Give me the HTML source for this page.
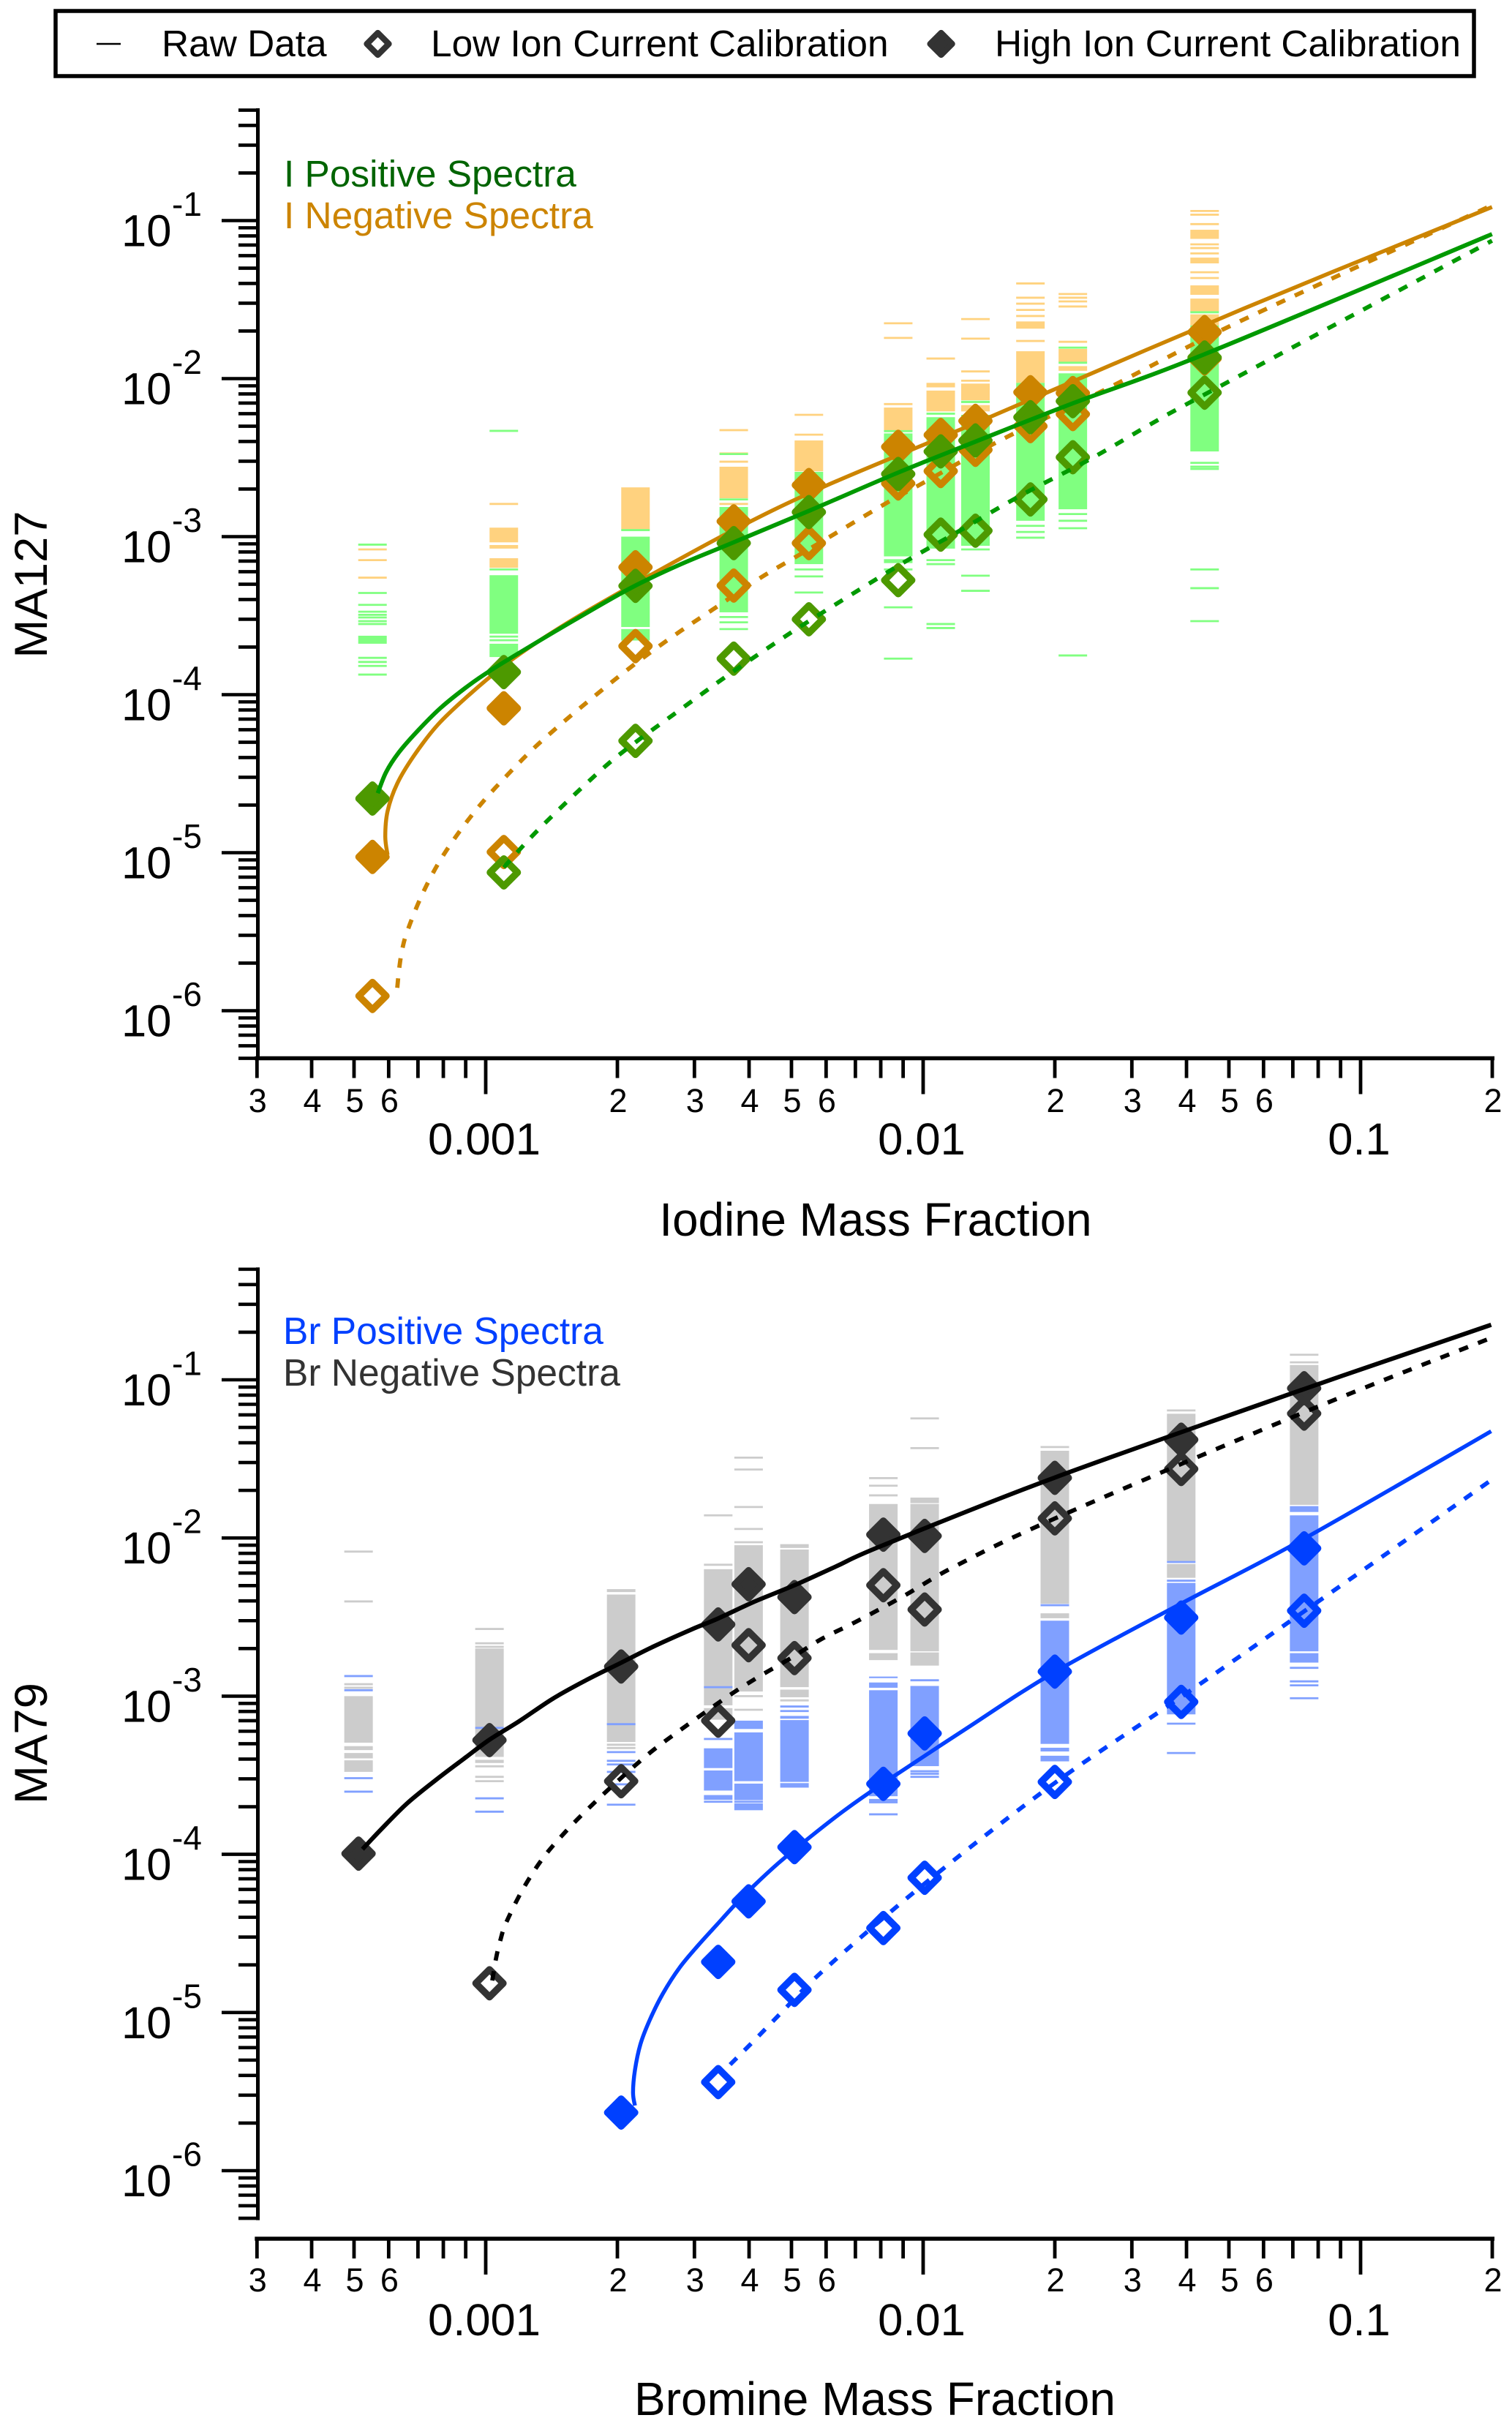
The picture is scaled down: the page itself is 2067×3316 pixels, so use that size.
<!DOCTYPE html>
<html lang="en">
<head>
<meta charset="utf-8">
<title>MA127 and MA79 calibration</title>
<style>
  html, body { margin: 0; padding: 0; background: #fff; }
  svg { display: block; font-family: "Liberation Sans", sans-serif; }
</style>
</head>
<body>
<svg id="figure" xmlns="http://www.w3.org/2000/svg" width="2067" height="3316" viewBox="0 0 2067 3316">
  <rect x="0" y="0" width="2067" height="3316" fill="#fff"/>

  <g>
    <rect x="76" y="15" width="1939" height="89" fill="#fff" stroke="#000" stroke-width="5.5"/>
    <line x1="132" y1="60" x2="165" y2="60" stroke="#000" stroke-width="2.5"/>
    <text x="221" y="77" font-size="51.4">Raw Data</text>
    <path d="M516.5 45 L531.5 60 L516.5 75 L501.5 60 Z" fill="none" stroke="#333" stroke-width="8.3" stroke-linejoin="round"/>
    <text x="589" y="77" font-size="51.4">Low Ion Current Calibration</text>
    <path d="M1286.6 45 L1301.6 60 L1286.6 75 L1271.6 60 Z" fill="#333" stroke="#333" stroke-width="8.3" stroke-linejoin="round"/>
    <text x="1360" y="77" font-size="51.4">High Ion Current Calibration</text>
  </g>

  <g>
    <g id="iodine-raw"></g>
    <g id="iodine-series"></g>
    <g id="iodine-axes"></g>
    <text x="388" y="255" font-size="51.4" fill="#006400">I Positive Spectra</text>
    <text x="388" y="312" font-size="51.4" fill="#cc8400">I Negative Spectra</text>
    <text transform="translate(64,799) rotate(-90)" text-anchor="middle" font-size="63.5">MA127</text>
    <text x="1197" y="1689" text-anchor="middle" font-size="63.7">Iodine Mass Fraction</text>
  </g>

  <g>
    <g id="bromine-raw"></g>
    <g id="bromine-series"></g>
    <g id="bromine-axes"></g>
    <text x="387" y="1837" font-size="51.5" fill="#0040ff">Br Positive Spectra</text>
    <text x="387" y="1894" font-size="51.5" fill="#333">Br Negative Spectra</text>
    <text transform="translate(64,2383) rotate(-90)" text-anchor="middle" font-size="63.5">MA79</text>
    <text x="1196" y="3301" text-anchor="middle" font-size="64">Bromine Mass Fraction</text>
  </g>
</svg>

<script>
/* ---------- Tick labels ---------- */
const yExponentLabels = [-1, -2, -3, -4, -5, -6];
const xDigitTicks = [[3,1e-4],[4,1e-4],[5,1e-4],[6,1e-4],[2,1e-3],[3,1e-3],[4,1e-3],[5,1e-3],[6,1e-3],[2,1e-2],[3,1e-2],[4,1e-2],[5,1e-2],[6,1e-2],[2,1e-1]];
const xUnlabelledTicks = [7e-4,8e-4,9e-4,7e-3,8e-3,9e-3,7e-2,8e-2,9e-2];
const xDecadeLabels = ['0.001', '0.01', '0.1'];
const xDecadeValues = [1e-3, 1e-2, 1e-1];

/* ---------- Iodine panel data ---------- */
const iodineColumns = [5.51e-4, 1.10e-3, 2.20e-3, 3.69e-3, 5.48e-3, 8.77e-3, 1.097e-2, 1.317e-2, 1.759e-2, 2.199e-2, 4.40e-2];

const iNegRawBands = [
  [],
  [[1.14e-3,9.2e-4],[8.85e-4,8.4e-4],[7.3e-4,6.35e-4]],
  [[2.05e-3,1.11e-3]],
  [[2.77e-3,1.75e-3]],
  [[4.06e-3,2.59e-3]],
  [[6.56e-3,4.67e-3]],
  [[9.4e-3,8.8e-3],[8.4e-3,6.2e-3]],
  [[9.3e-3,7.3e-3],[6.8e-3,6.2e-3]],
  [[2.3e-2,2.07e-2],[1.49e-2,9.4e-3]],
  [[1.54e-2,1.27e-2],[1.2e-2,1.12e-2]],
  [[8.75e-2,7.66e-2],[5.83e-2,5.36e-2],[3.89e-2,3.39e-2],[3.21e-2,2.65e-2],[2.55e-2,2.17e-2]]
];
const iNegRawDashes = [
  [8.3e-4,7.1e-4,5.5e-4],
  [1.61e-3],
  [],
  [4.72e-3,3.36e-3,2.98e-3,1.61e-3],
  [5.9e-3,4.42e-3],
  [2.24e-2,1.81e-2,6.9e-3],
  [1.34e-2],
  [2.38e-2,1.79e-2,1.11e-2,9.7e-3],
  [4.0e-2,3.25e-2,2.98e-2,2.72e-2,2.49e-2,1.73e-2],
  [3.43e-2,3.25e-2,3.08e-2,2.86e-2,1.71e-2],
  [1.15e-1,1.09e-1,9.5e-2,7.07e-2,6.7e-2,6.2e-2,4.71e-2,4.33e-2]
];
const iPosRawBands = [
  [[2.36e-4,2.1e-4]],
  [[5.7e-4,2.43e-4],[2.1e-4,1.73e-4]],
  [[1.0e-3,2.68e-4],[2.6e-4,2.2e-4]],
  [[1.54e-3,3.32e-4]],
  [[2.57e-3,6.7e-4]],
  [[4.5e-3,7.5e-4],[7.2e-4,6.8e-4]],
  [[5.7e-3,8.4e-4]],
  [[7.25e-3,7.0e-3],[5.9e-3,8.75e-4]],
  [[9.4e-3,1.26e-3]],
  [[1.08e-2,1.49e-3]],
  [[2.17e-2,3.46e-3]]
];
const iPosRawDashes = [
  [8.9e-4,4.4e-4,3.7e-4,3.35e-4,3.2e-4,3.08e-4,2.92e-4,2.8e-4,1.71e-4,1.61e-4,1.52e-4,1.34e-4],
  [4.67e-3,6.2e-4,2.33e-4,2.21e-4],
  [1.1e-3],
  [3.33e-3,1.72e-3,3.1e-4,2.87e-4,2.6e-4],
  [6.2e-4,5.6e-4,4.43e-4],
  [4.65e-3,6.2e-4,3.57e-4,1.69e-4],
  [6.0e-3,7.1e-4,6.7e-4,2.8e-4,2.64e-4],
  [8.3e-4,5.66e-4,4.54e-4],
  [1.17e-3,1.07e-3,9.85e-4],
  [1.57e-2,1.26e-2,1.39e-3,1.26e-3,1.13e-3,1.77e-4],
  [2.63e-2,2.93e-3,2.77e-3,2.68e-3,6.2e-4,4.72e-4,2.92e-4]
];

const iPosHigh = [2.2e-5,1.39e-4,4.88e-4,9.1e-4,1.43e-3,2.49e-3,3.46e-3,4.06e-3,5.7e-3,7.2e-3,1.36e-2];
const iNegHigh = [9.4e-6,8.2e-5,6.4e-4,1.25e-3,2.12e-3,3.7e-3,4.4e-3,5.4e-3,8.2e-3,8.1e-3,1.97e-2];
const iNegLow  = [1.24e-6,1.01e-5,2.03e-4,4.9e-4,9.1e-4,2.17e-3,2.6e-3,3.54e-3,5.0e-3,5.96e-3,1.34e-2];
const iPosLow  = [null,7.5e-6,5.1e-5,1.69e-4,3.0e-4,5.3e-4,1.03e-3,1.09e-3,1.72e-3,3.18e-3,8.15e-3];

/* Fit curves as log10(mass fraction) and log10(signal) */
const iNegSolidLogX = [-3.2244,-3.2296,-3.2244,-3.2022,-3.1637,-3.1094,-3.0390,-2.9589,-2.8916,-2.7957,-2.6677,-2.4381,-2.2216,-1.8562,-1.2676,-0.6995];
const iNegSolidLogY = [-5.0134,-4.8986,-4.7384,-4.5620,-4.3847,-4.1898,-4.0037,-3.8176,-3.6847,-3.5167,-3.3125,-2.9653,-2.6773,-2.2537,-1.5574,-0.9144];
const iPosSolidLogX = [-3.2468,-3.2278,-3.1990,-3.1542,-3.1028,-3.0390,-2.9876,-2.8982,-2.7957,-2.6677,-2.5589,-2.4381,-2.2592,-2.0574,-1.8819,-1.6580,-1.3579,-0.6995];
const iPosSolidLogY = [-4.6236,-4.4907,-4.3671,-4.2250,-4.0833,-3.9417,-3.8444,-3.6935,-3.5255,-3.3241,-3.1806,-3.0417,-2.8347,-2.5949,-2.4005,-2.1565,-1.8468,-1.0856];
const iNegDashLogX = [-3.2022,-3.1977,-3.1911,-3.1798,-3.1477,-3.1080,-3.0614,-3.0089,-2.9507,-2.8905,-2.8258,-2.7605,-2.6933,-2.6261,-2.5538,-2.4821,-2.3766,-2.3037,-2.2216,-2.0836,-2.0089,-1.8186,-1.5871,-1.2776,-0.6995];
const iNegDashLogY = [-5.8551,-5.7310,-5.6162,-5.5009,-5.2792,-5.0667,-4.8718,-4.6856,-4.5088,-4.3403,-4.1810,-4.0301,-3.8796,-3.7380,-3.5963,-3.4634,-3.2685,-3.1486,-3.0144,-2.7870,-2.6736,-2.3838,-2.0741,-1.6398,-0.9032];
const iPosDashLogX = [-2.9589,-2.8982,-2.8373,-2.7766,-2.7125,-2.6421,-2.5717,-2.5013,-2.4341,-2.3253,-2.2592,-2.1395,-2.0351,-1.9231,-1.7811,-1.6171,-1.4751,-1.3595,-0.6995];
const iPosDashLogY = [-5.0935,-4.9074,-4.7389,-4.5796,-4.4199,-4.2694,-4.1278,-3.9861,-3.8532,-3.6495,-3.5310,-3.3245,-3.1486,-2.9731,-2.7458,-2.5079,-2.2806,-2.1051,-1.1273];

/* ---------- Bromine panel data ---------- */
const bromineColumns = [5.12e-4, 1.02e-3, 2.04e-3, 3.40e-3, 3.99e-3, 5.08e-3, 8.11e-3, 1.008e-2, 2.0e-2, 3.89e-2, 7.43e-2];

const brNegRawBands = [
  [[1.0e-3,5.08e-4],[4.83e-4,4.56e-4],[4.37e-4,4.04e-4],[3.93e-4,3.32e-4]],
  [[2.0e-3,4.13e-4],[3.96e-4,3.78e-4]],
  [[4.75e-3,4.55e-3],[4.39e-3,5.13e-4]],
  [[6.35e-3,8.75e-4],[8.4e-4,7.1e-4]],
  [[9.0e-3,1.07e-3]],
  [[9.14e-3,8.65e-3],[8.45e-3,1.14e-3],[1.1e-3,9.84e-4]],
  [[1.64e-2,1.96e-3],[1.87e-3,1.69e-3]],
  [[1.8e-2,1.66e-2],[1.64e-2,1.92e-3],[1.89e-3,1.56e-3]],
  [[3.56e-2,3.84e-3],[3.34e-3,3.11e-3]],
  [[6.1e-2,7.15e-3],[6.85e-3,5.6e-3]],
  [[1.24e-1,1.62e-2]]
];
const brNegRawDashes = [
  [8.2e-3,3.97e-3,1.19e-3,1.13e-3],
  [2.66e-3,2.16e-3,2.05e-3,3.6e-4,3.09e-4,2.9e-4],
  [4.93e-4,4.7e-4],
  [1.39e-2,6.77e-3],
  [3.22e-2,2.71e-2,1.57e-2,1.14e-2,9.4e-3,1.0e-3,8.2e-4],
  [9.4e-4],
  [2.39e-2,2.14e-2,1.86e-2],
  [5.7e-2,3.7e-2],
  [3.76e-2],
  [6.4e-2],
  [1.44e-1,1.29e-1]
];
const brPosRawBands = [
  [],
  [],
  [],
  [[4.68e-4,3.51e-4],[3.39e-4,2.53e-4],[2.37e-4,2.21e-4]],
  [[7.0e-4,6.2e-4],[5.9e-4,2.9e-4],[2.8e-4,2.2e-4],[2.1e-4,1.9e-4]],
  [[7.5e-4,7.2e-4],[7.06e-4,2.87e-4],[2.82e-4,2.64e-4]],
  [[1.33e-3,1.3e-3],[1.22e-3,1.13e-3],[1.09e-3,2.33e-4],[2.24e-4,2.1e-4]],
  [[1.16e-3,3.61e-4]],
  [[3.0e-3,4.99e-4],[4.72e-4,4.47e-4],[4.2e-4,3.87e-4]],
  [[5.2e-3,7.67e-4]],
  [[1.59e-2,1.46e-2],[1.39e-2,1.92e-3],[1.87e-3,1.63e-3]]
];
const brPosRawDashes = [
  [1.34e-3,1.09e-3,3.03e-4,2.49e-4],
  [6.3e-4,2.26e-4,1.86e-4],
  [6.65e-4,4.43e-4,3.9e-4,3.7e-4,3.32e-4,2.77e-4,2.06e-4],
  [1.14e-3,5.36e-4,2.15e-4],
  [2.15e-4],
  [8.6e-4,8.05e-4],
  [1.79e-4],
  [1.26e-3,3.35e-4,3.23e-4,3.09e-4],
  [3.76e-3],
  [7.05e-3,5.37e-3,6.7e-4,4.37e-4],
  [1.51e-3,1.24e-3,1.17e-3,9.7e-4]
];

const brNegHigh = [1.01e-4,5.27e-4,1.54e-3,2.84e-3,5.1e-3,4.23e-3,1.05e-2,1.03e-2,2.4e-2,4.18e-2,8.85e-2];
const brNegLow  = [null,1.53e-5,2.9e-4,7.0e-4,2.1e-3,1.74e-3,5.03e-3,3.53e-3,1.33e-2,2.73e-2,6.12e-2];
const brPosHigh = [null,null,2.33e-6,2.09e-5,5.04e-5,1.11e-4,2.79e-4,5.81e-4,1.43e-3,3.14e-3,8.6e-3];
const brPosLow  = [null,null,null,3.63e-6,null,1.39e-5,3.42e-5,7.11e-5,2.87e-4,9.2e-4,3.47e-3];

const brNegSolidLogX = [-3.2818,-3.2391,-3.1794,-3.1110,-3.0513,-2.9916,-2.9234,-2.8467,-2.7699,-2.6930,-2.6162,-2.5309,-2.4687,-2.3860,-2.2921,-2.1982,-2.0931,-1.7008,-1.1303,-0.7015];
const brNegSolidLogY = [-3.9676,-3.8423,-3.6772,-3.5236,-3.3987,-3.2757,-3.1582,-3.0162,-2.8983,-2.7923,-2.6859,-2.5800,-2.5088,-2.4029,-2.2965,-2.1785,-2.0476,-1.6198,-1.0597,-0.6522];
const brNegDashLogX = [-2.9849,-2.9763,-2.9661,-2.9533,-2.9149,-2.8679,-2.8125,-2.7528,-2.6930,-2.6247,-2.5565,-2.4542,-2.3816,-2.3007,-2.2324,-2.1555,-2.0446,-1.9281,-1.6987,-1.1303,-0.7015];
const brNegDashLogY = [-4.7979,-4.6563,-4.5384,-4.4325,-4.2197,-4.0194,-3.8423,-3.6772,-3.5236,-3.3585,-3.2169,-3.0162,-2.8867,-2.7567,-2.6388,-2.5324,-2.3673,-2.1804,-1.8765,-1.2068,-0.7350];
const brPosSolidLogX = [-2.6589,-2.6632,-2.6589,-2.6462,-2.6247,-2.5950,-2.5565,-2.5139,-2.4712,-2.4286,-2.3860,-2.3304,-2.2579,-2.1811,-2.0958,-1.9030,-1.7008,-1.4107,-1.1303,-0.7015];
const brPosSolidLogY = [-5.5883,-5.5060,-5.3645,-5.1994,-5.0458,-4.8807,-4.7155,-4.5740,-4.4440,-4.3145,-4.1961,-4.0546,-3.8895,-3.7243,-3.5592,-3.2081,-2.8502,-2.4154,-2.0065,-1.3252];
const brPosDashLogX = [-2.4413,-2.3774,-2.3219,-2.2237,-1.9973,-1.7008,-1.4107,-1.1303,-0.7015];
const brPosDashLogY = [-5.3293,-5.1522,-4.9940,-4.7234,-4.1869,-3.5523,-3.0065,-2.4662,-1.6346];

/* ---------- Axis functions ---------- */
function xPos(v) { return 664 + 598 * (Math.log10(v) + 3); }
function yIodine(v) { return 85.5 - 216 * Math.log10(v); }
function yBromine(v) { return 1669.8 - 216.2 * Math.log10(v); }

const NS = 'http://www.w3.org/2000/svg';
function mk(tag, parent) {
  const el = document.createElementNS(NS, tag);
  parent.appendChild(el);
  return el;
}
function byId(id) { return document.getElementById(id); }

/* ---------- Drawing ---------- */
function drawRaw(parent, yFn, columns, bands, dashes, color) {
  const halfWidth = 19.5;
  columns.forEach(function (xv, i) {
    const cx = xPos(xv);
    bands[i].forEach(function (b) {
      const r = mk('rect', parent);
      
      
      r.setAttribute('x', cx - halfWidth);
      r.setAttribute('width', halfWidth * 2);
      r.setAttribute('y', yFn(b[0]));
      r.setAttribute('height', yFn(b[1]) - yFn(b[0]));
      r.setAttribute('fill', color);
    });
    dashes[i].forEach(function (d) {
      const l = mk('line', parent);
      
      
      l.setAttribute('x1', cx - halfWidth);
      l.setAttribute('x2', cx + halfWidth);
      l.setAttribute('y1', yFn(d));
      l.setAttribute('y2', yFn(d));
      l.setAttribute('stroke', color);
      l.setAttribute('stroke-width', 2.8);
    });
  });
}

function diamond(cx, cy, h) {
  return 'M' + cx + ' ' + (cy - h) + ' L' + (cx + h) + ' ' + cy + ' L' + cx + ' ' + (cy + h) + ' L' + (cx - h) + ' ' + cy + ' Z';
}

function drawHigh(parent, yFn, columns, values, color) {
  values.forEach(function (v, i) {
    if (v === null) return;
    const p = mk('path', parent);
    
    
    p.setAttribute('d', diamond(xPos(columns[i]), yFn(v), 18.75));
    p.setAttribute('fill', color);
    p.setAttribute('stroke', color);
    p.setAttribute('stroke-width', 9.5);
    p.setAttribute('stroke-linejoin', 'round');
  });
}

function drawLow(parent, yFn, columns, values, color) {
  values.forEach(function (v, i) {
    if (v === null) return;
    const p = mk('path', parent);
    
    
    p.setAttribute('d', diamond(xPos(columns[i]), yFn(v), 18.75));
    p.setAttribute('fill', 'none');
    p.setAttribute('stroke', color);
    p.setAttribute('stroke-width', 9.5);
    p.setAttribute('stroke-linejoin', 'round');
  });
}

function curvePath(pts) {
  let d = 'M' + pts[0][0].toFixed(1) + ' ' + pts[0][1].toFixed(1);
  for (let i = 0; i < pts.length - 1; i++) {
    const p0 = pts[Math.max(i - 1, 0)], p1 = pts[i], p2 = pts[i + 1], p3 = pts[Math.min(i + 2, pts.length - 1)];
    const c1x = p1[0] + (p2[0] - p0[0]) / 6, c1y = p1[1] + (p2[1] - p0[1]) / 6;
    const c2x = p2[0] - (p3[0] - p1[0]) / 6, c2y = p2[1] - (p3[1] - p1[1]) / 6;
    d += ' C' + c1x.toFixed(1) + ' ' + c1y.toFixed(1) + ' ' + c2x.toFixed(1) + ' ' + c2y.toFixed(1) + ' ' + p2[0].toFixed(1) + ' ' + p2[1].toFixed(1);
  }
  return d;
}

function curvePoints(yFn, logXs, logYs) {
  return logXs.map(function (lx, i) {
    return [xPos(Math.pow(10, lx)), yFn(Math.pow(10, logYs[i]))];
  });
}

function drawSolid(parent, yFn, logXs, logYs, color, width) {
  const p = mk('path', parent);
  
  
  p.setAttribute('d', curvePath(curvePoints(yFn, logXs, logYs)));
  p.setAttribute('fill', 'none');
  p.setAttribute('stroke', color);
  p.setAttribute('stroke-width', width);
}

function drawDashed(parent, yFn, logXs, logYs, color) {
  const p = mk('path', parent);
  
  
  p.setAttribute('d', curvePath(curvePoints(yFn, logXs, logYs)));
  p.setAttribute('fill', 'none');
  p.setAttribute('stroke', color);
  p.setAttribute('stroke-width', 5.8);
  p.setAttribute('stroke-dasharray', '13 14.6');
}

function tickLine(parent, x1, y1, x2, y2, w) {
  const l = mk('line', parent);
  
  
  l.setAttribute('x1', x1);
  l.setAttribute('y1', y1);
  l.setAttribute('x2', x2);
  l.setAttribute('y2', y2);
  l.setAttribute('stroke', '#000');
  l.setAttribute('stroke-width', w);
}

function drawYAxis(parent, yFn) {
  const axisX = 352.5;
  const top = yFn(0.5), bottom = yFn(5e-7);
  const spine = mk('line', parent);
  
  
  spine.setAttribute('x1', axisX);
  spine.setAttribute('x2', axisX);
  spine.setAttribute('y1', top - 2.5);
  spine.setAttribute('y2', bottom + 2.5);
  spine.setAttribute('stroke', '#000');
  spine.setAttribute('stroke-width', 5);
  for (let e = -7; e <= -1; e++) {
    for (let m = 1; m <= 9; m++) {
      const v = m * Math.pow(10, e);
      if (v < 4.9e-7 || v > 0.51) continue;
      tickLine(parent, m === 1 ? 303 : 326, yFn(v), axisX, yFn(v), 4.6);
    }
  }
  yExponentLabels.forEach(function (e) {
    const ty = yFn(Math.pow(10, e));
    const base = mk('text', parent);
    
    
    base.setAttribute('x', 166);
    base.setAttribute('y', ty + 35);
    base.setAttribute('font-size', 61.5);
    base.textContent = '10';
    const sup = mk('text', parent);
    
    
    sup.setAttribute('x', 235);
    sup.setAttribute('y', ty - 6.5);
    sup.setAttribute('font-size', 46);
    sup.textContent = String(e);
  });
}

function drawXAxis(parent, axisY, digitBase, decadeBase) {
  const spine = mk('line', parent);
  
  
  spine.setAttribute('x1', xPos(3e-4) - 3);
  spine.setAttribute('x2', xPos(0.2) + 3);
  spine.setAttribute('y1', axisY);
  spine.setAttribute('y2', axisY);
  spine.setAttribute('stroke', '#000');
  spine.setAttribute('stroke-width', 5.5);
  xDigitTicks.forEach(function (t) {
    const x = xPos(t[0] * t[1]);
    tickLine(parent, x, axisY, x, axisY + 27, 4.8);
    const label = mk('text', parent);
    
    
    label.setAttribute('x', x + 1);
    label.setAttribute('y', digitBase);
    label.setAttribute('text-anchor', 'middle');
    label.setAttribute('font-size', 45);
    label.textContent = String(t[0]);
  });
  xUnlabelledTicks.forEach(function (v) {
    tickLine(parent, xPos(v), axisY, xPos(v), axisY + 27, 4.8);
  });
  xDecadeValues.forEach(function (v, i) {
    tickLine(parent, xPos(v), axisY, xPos(v), axisY + 49, 4.8);
    const label = mk('text', parent);
    
    
    label.setAttribute('x', xPos(v) - 2);
    label.setAttribute('y', decadeBase);
    label.setAttribute('text-anchor', 'middle');
    label.setAttribute('font-size', 61.5);
    label.textContent = xDecadeLabels[i];
  });
}

/* ---------- Iodine panel ---------- */
const ORANGE = '#cc8400', GREEN_MARK = '#4d9900', GREEN_LINE = '#009900';
const BLACK_MARK = '#333333', BLUE = '#0040ff';

drawRaw(byId('iodine-raw'), yIodine, iodineColumns, iNegRawBands, iNegRawDashes, '#ffd27f');
drawRaw(byId('iodine-raw'), yIodine, iodineColumns, iPosRawBands, iPosRawDashes, '#80ff80');

drawLow(byId('iodine-series'), yIodine, iodineColumns, iNegLow, ORANGE);
drawHigh(byId('iodine-series'), yIodine, iodineColumns, iNegHigh, ORANGE);
drawDashed(byId('iodine-series'), yIodine, iNegDashLogX, iNegDashLogY, ORANGE);
drawSolid(byId('iodine-series'), yIodine, iNegSolidLogX, iNegSolidLogY, ORANGE, 5.4);
drawLow(byId('iodine-series'), yIodine, iodineColumns, iPosLow, GREEN_MARK);
drawHigh(byId('iodine-series'), yIodine, iodineColumns, iPosHigh, GREEN_MARK);
drawDashed(byId('iodine-series'), yIodine, iPosDashLogX, iPosDashLogY, GREEN_LINE);
drawSolid(byId('iodine-series'), yIodine, iPosSolidLogX, iPosSolidLogY, GREEN_LINE, 5.8);

drawYAxis(byId('iodine-axes'), yIodine);
drawXAxis(byId('iodine-axes'), 1446.5, 1520, 1578);

/* ---------- Bromine panel ---------- */
drawRaw(byId('bromine-raw'), yBromine, bromineColumns, brNegRawBands, brNegRawDashes, '#cccccc');
drawRaw(byId('bromine-raw'), yBromine, bromineColumns, brPosRawBands, brPosRawDashes, '#80a0ff');

drawLow(byId('bromine-series'), yBromine, bromineColumns, brNegLow, BLACK_MARK);
drawHigh(byId('bromine-series'), yBromine, bromineColumns, brNegHigh, BLACK_MARK);
drawDashed(byId('bromine-series'), yBromine, brNegDashLogX, brNegDashLogY, '#000000');
drawSolid(byId('bromine-series'), yBromine, brNegSolidLogX, brNegSolidLogY, '#000000', 6);
drawLow(byId('bromine-series'), yBromine, bromineColumns, brPosLow, BLUE);
drawHigh(byId('bromine-series'), yBromine, bromineColumns, brPosHigh, BLUE);
drawDashed(byId('bromine-series'), yBromine, brPosDashLogX, brPosDashLogY, BLUE);
drawSolid(byId('bromine-series'), yBromine, brPosSolidLogX, brPosSolidLogY, BLUE, 5.4);

drawYAxis(byId('bromine-axes'), yBromine);
drawXAxis(byId('bromine-axes'), 3060, 3132, 3192);
</script>
</body>
</html>
